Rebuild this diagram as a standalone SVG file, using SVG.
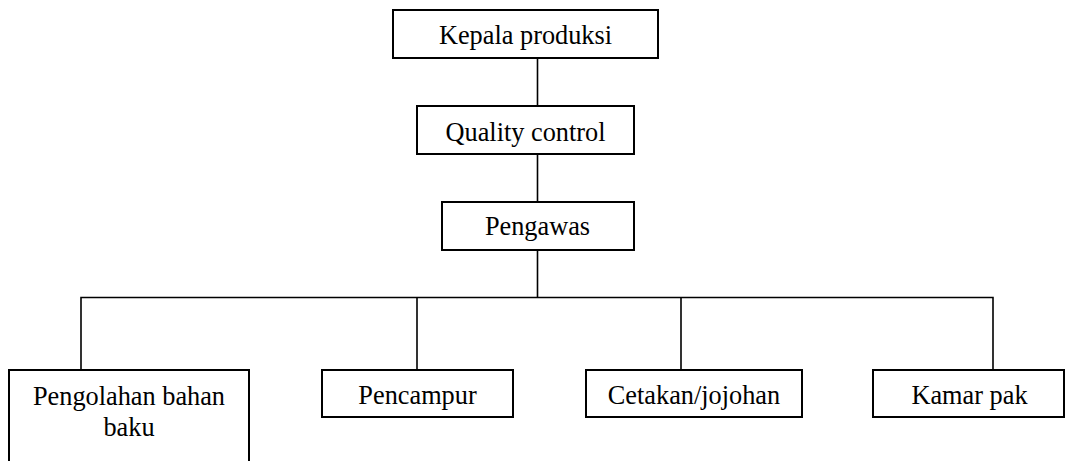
<svg xmlns="http://www.w3.org/2000/svg" width="1066" height="461" viewBox="0 0 1066 461">
<style>
.box{fill:#fff;stroke:#000;stroke-width:2}
.lbl{font-family:"Liberation Serif","Times New Roman",serif;font-size:26.3px;fill:#000;text-anchor:middle}
.con{fill:none;stroke:#000;stroke-width:1.6}
</style>
<rect width="1066" height="461" fill="#fff"/>
<g id="connectors">
<path class="con" d="M537.5 58V107M537.5 154V202M537.5 250V297.5"/>
<path class="con" d="M81 370V297.5H993V370M417 297.5V370M681 297.5V370"/>
</g>
<g id="kepala"><rect class="box" x="393" y="10" width="265" height="48"/><text class="lbl" x="525.5" y="44">Kepala produksi</text></g>
<g id="qc"><rect class="box" x="417" y="106" width="217" height="48"/><text class="lbl" x="525.5" y="141">Quality control</text></g>
<g id="pengawas"><rect class="box" x="442" y="202" width="192" height="48"/><text class="lbl" x="537.5" y="235">Pengawas</text></g>
<g id="pengolahan"><rect class="box" x="9" y="370" width="240" height="100"/><text class="lbl" x="129" y="405">Pengolahan bahan</text><text class="lbl" x="129" y="436">baku</text></g>
<g id="pencampur"><rect class="box" x="322" y="370" width="191" height="47"/><text class="lbl" x="417.5" y="404">Pencampur</text></g>
<g id="cetakan"><rect class="box" x="586" y="370" width="216" height="47"/><text class="lbl" x="694" y="404">Cetakan/jojohan</text></g>
<g id="kamar"><rect class="box" x="873" y="370" width="191" height="47"/><text class="lbl" x="969.5" y="404">Kamar pak</text></g>
</svg>
